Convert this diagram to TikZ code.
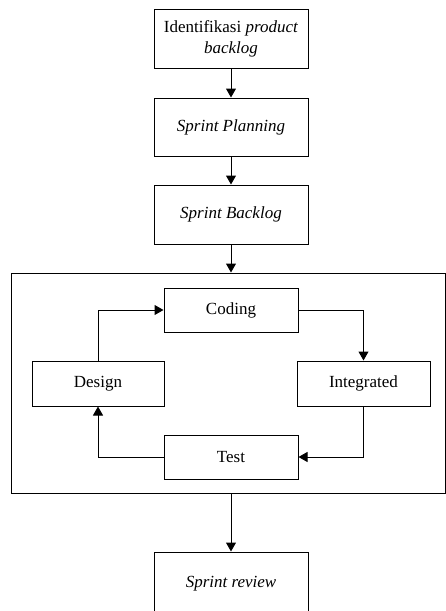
\documentclass[tikz,border=0pt]{standalone}
\usepackage{fontspec}
\setmainfont{Liberation Serif}
\usetikzlibrary{arrows.meta}
\begin{document}
\begin{tikzpicture}[x=1pt,y=-1pt,
  box/.style={draw, line width=1pt, inner sep=0pt, align=center, font=\fontsize{17}{21}\selectfont},
  conn/.style={draw, line width=1pt, -{Triangle[width=10pt,length=9pt]}}]
\useasboundingbox (0,0) rectangle (446,611);
\node[box, minimum width=154pt, minimum height=59pt] (idb) at (231,38.5) {Identifikasi \textit{product}\\\textit{backlog}};
\node[box, minimum width=154pt, minimum height=58pt] (sp) at (231,127) {\textit{Sprint Planning}};
\node[box, minimum width=154pt, minimum height=59pt] (sb) at (231,214.5) {\textit{Sprint Backlog}};
\node[box, minimum width=434pt, minimum height=220pt] (loop) at (228,383) {};
\node[box, minimum width=134pt, minimum height=44pt] (cod) at (231,310) {Coding};
\node[box, minimum width=132pt, minimum height=45pt] (des) at (98,383.5) {Design};
\node[box, minimum width=133pt, minimum height=45pt] (int) at (363.5,383.5) {Integrated};
\node[box, minimum width=134pt, minimum height=44pt] (tst) at (231,457) {Test};
\node[box, minimum width=154pt, minimum height=64pt] (rev) at (231,584) {\textit{Sprint review}};
\draw[conn] (idb) -- (sp);
\draw[conn] (sp) -- (sb);
\draw[conn] (sb) -- (loop.north -| sb);
\draw[conn] (loop.south -| rev) -- (rev);
\draw[conn] (des.north) |- (cod.west);
\draw[conn] (cod.east) -| (int.north);
\draw[conn] (int.south) |- (tst.east);
\draw[conn] (tst.west) -| (des.south);
\end{tikzpicture}
\end{document}
